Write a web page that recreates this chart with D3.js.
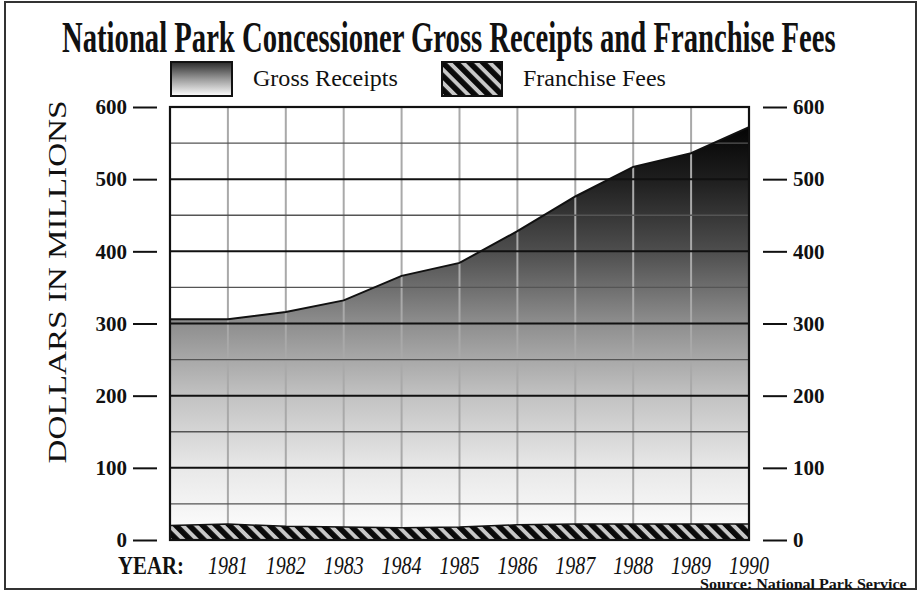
<!DOCTYPE html>
<html>
<head>
<meta charset="utf-8">
<script src="https://cdn.jsdelivr.net/npm/d3@7"></script>
<style>
  body { margin: 0; background: #fff; }
  svg { display: block; }
  text { font-family: "Liberation Serif", "Times New Roman", serif; fill: #111; }
</style>
</head>
<body>
<div id="chart"></div>
<script>
// values ($ millions)
var years = [1980, 1981, 1982, 1983, 1984, 1985, 1986, 1987, 1988, 1989, 1990];
var grossReceipts = [306, 306, 316, 332, 366, 384, 428, 476, 517, 536, 572];
var franchiseFees = [20, 22, 19, 18, 17, 18, 21, 22, 22, 22, 22];
var yearLabels = ["1981", "1982", "1983", "1984", "1985", "1986", "1987", "1988", "1989", "1990"];
var yTicks = [0, 100, 200, 300, 400, 500, 600];

var W = 919, H = 592;
var margin = {top: 107, right: 170, bottom: 52, left: 170},
    width = W - margin.left - margin.right,
    height = H - margin.top - margin.bottom;

var svg = d3.select("#chart").append("svg")
    .attr("width", W)
    .attr("height", H);

var defs = svg.append("defs");

var x = d3.scaleLinear().domain([1980, 1990]).range([0, width]);
var y = d3.scaleLinear().domain([0, 600]).range([height, 0]);

// squeeze a text to a given width, anchored at its left edge (x, y)
function fitText(parent, str, px, py, w, style) {
  var t = parent.append("text").attr("x", 0).attr("y", 0).text(str);
  for (var k in style) t.style(k, style[k]);
  var natural = t.node().getComputedTextLength();
  t.attr("transform", "translate(" + px + "," + py + ") scale(" + (w / natural) + ",1)");
  return t;
}

// gradient for gross receipts, white at bottom to black near top
var grad = defs.append("linearGradient")
    .attr("id", "grossGrad")
    .attr("gradientUnits", "userSpaceOnUse")
    .attr("x1", 0).attr("x2", 0)
    .attr("y1", y(0)).attr("y2", y(600));
[[0, "#ffffff"], [100, "#e8e8e8"], [200, "#c2c2c2"], [300, "#8e8e8e"],
 [400, "#4e4e4e"], [500, "#1e1e1e"], [570, "#050505"], [600, "#000"]].forEach(function(s) {
  grad.append("stop").attr("offset", s[0] / 600).attr("stop-color", s[1]);
});

var legGrad = defs.append("linearGradient")
    .attr("id", "legGrad")
    .attr("x1", 0).attr("x2", 0).attr("y1", 0).attr("y2", 1);
legGrad.append("stop").attr("offset", 0).attr("stop-color", "#2a2a2a");
legGrad.append("stop").attr("offset", 0.5).attr("stop-color", "#9a9a9a");
legGrad.append("stop").attr("offset", 1).attr("stop-color", "#ffffff");

// diagonal hatch for franchise fees
var hatch = defs.append("pattern")
    .attr("id", "hatch")
    .attr("patternUnits", "userSpaceOnUse")
    .attr("width", 9.5).attr("height", 9.5)
    .attr("patternTransform", "rotate(-45)");
hatch.append("rect").attr("width", 9.5).attr("height", 9.5).attr("fill", "#c8c8c8");
hatch.append("rect").attr("width", 5.6).attr("height", 9.5).attr("fill", "#0a0a0a");

// outer frame
svg.append("rect")
    .attr("x", 5).attr("y", 2)
    .attr("width", 911).attr("height", 587)
    .attr("fill", "none")
    .attr("stroke", "#333")
    .attr("stroke-width", 2);

// title
fitText(svg, "National Park Concessioner Gross Receipts and Franchise Fees", 62, 52, 774,
    {"font-size": "45px", "font-weight": "bold"});

// legend
svg.append("rect")
    .attr("x", 171).attr("y", 62).attr("width", 61).attr("height", 34)
    .attr("fill", "url(#legGrad)").attr("stroke", "#111").attr("stroke-width", 2);
fitText(svg, "Gross Receipts", 253, 86, 145, {"font-size": "23px"});
svg.append("rect")
    .attr("x", 442).attr("y", 62).attr("width", 60).attr("height", 34)
    .attr("fill", "url(#hatch)").attr("stroke", "#111").attr("stroke-width", 2);
fitText(svg, "Franchise Fees", 523, 86, 143, {"font-size": "23px"});

var g = svg.append("g")
    .attr("transform", "translate(" + margin.left + "," + margin.top + ")");

// gross receipts area
var area = d3.area()
    .x(function(d, i) { return x(years[i]); })
    .y0(y(0))
    .y1(function(d) { return y(d); });
var line = d3.line()
    .x(function(d, i) { return x(years[i]); })
    .y(function(d) { return y(d); });

g.append("path")
    .datum(grossReceipts)
    .attr("fill", "url(#grossGrad)")
    .attr("d", area);

// vertical grid
g.selectAll(".vgrid")
    .data(years.slice(1, -1))
  .enter().append("line")
    .attr("class", "vgrid")
    .attr("x1", function(d) { return x(d); })
    .attr("x2", function(d) { return x(d); })
    .attr("y1", 0).attr("y2", height)
    .attr("stroke", "#a9a9a9")
    .attr("stroke-width", 2);

// horizontal grid, every 50
g.selectAll(".hgrid")
    .data(d3.range(50, 600, 50))
  .enter().append("line")
    .attr("class", "hgrid")
    .attr("x1", 0).attr("x2", width)
    .attr("y1", function(d) { return y(d); })
    .attr("y2", function(d) { return y(d); })
    .attr("stroke", function(d) { return d % 100 === 0 ? "#111" : "#555"; })
    .attr("stroke-width", function(d) { return d % 100 === 0 ? 2 : 1.4; });

g.append("path")
    .datum(grossReceipts)
    .attr("fill", "none")
    .attr("stroke", "#111")
    .attr("stroke-width", 2)
    .attr("d", line);

// franchise fees band
g.append("path")
    .datum(franchiseFees)
    .attr("fill", "url(#hatch)")
    .attr("stroke", "#111")
    .attr("stroke-width", 1.5)
    .attr("d", area);

// plot frame
g.append("rect")
    .attr("width", width).attr("height", height)
    .attr("fill", "none")
    .attr("stroke", "#111")
    .attr("stroke-width", 2.2);

// y axes on both sides, detached from the frame
var leftAxis = svg.append("g")
    .attr("transform", "translate(157," + margin.top + ")")
    .call(d3.axisLeft(y).tickValues(yTicks).tickSize(24).tickPadding(6));
var rightAxis = svg.append("g")
    .attr("transform", "translate(763," + margin.top + ")")
    .call(d3.axisRight(y).tickValues(yTicks).tickSize(24).tickPadding(6));
[leftAxis, rightAxis].forEach(function(ax) {
  ax.select(".domain").remove();
  ax.selectAll(".tick line").attr("stroke", "#111").attr("stroke-width", 2);
  ax.selectAll(".tick text")
      .attr("fill", "#111")
      .style("font-family", "'Liberation Serif', serif")
      .style("font-size", "21px")
      .style("font-weight", "bold");
});

// y axis title
svg.append("text")
    .attr("transform", "translate(66,282) rotate(-90)")
    .attr("text-anchor", "middle")
    .attr("textLength", 363)
    .attr("lengthAdjust", "spacingAndGlyphs")
    .style("font-size", "26px")
    .text("DOLLARS IN MILLIONS");

// x labels
fitText(svg, "YEAR:", 118, 574, 66, {"font-size": "26px", "font-weight": "bold"});
yearLabels.forEach(function(d) {
  fitText(svg, d, margin.left + x(+d) - 20, 574, 40, {"font-size": "26px", "font-style": "italic"});
});

// source
fitText(svg, "Source: National Park Service", 700, 589, 207,
    {"font-size": "15px", "font-weight": "bold"});
</script>
</body>
</html>
